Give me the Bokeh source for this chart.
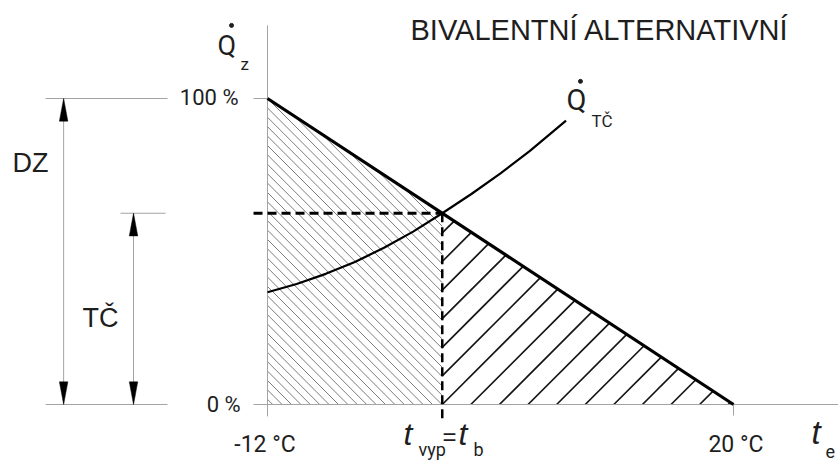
import math

from bokeh.plotting import figure
from bokeh.models import Range1d, Label, ColumnDataSource
from bokeh.embed import file_html
from bokeh.resources import INLINE

# --- data -------------------------------------------------------------
# Design heat load of the building: 100 % at the design outdoor
# temperature, 0 % at the end of the heating season
load_temps = [-12, 20]
load_pct = [100, 0]

# Heat pump output over outdoor temperature
hp_temps = [-12, -10, -8, -6, -4, -2, 0, 2, 4, 6, 8.5]
hp_pct = [36.7, 39.4, 42.7, 46.6, 51.2, 56.5, 62.5, 68.8, 75.5, 82.8, 92.8]

# Bivalent point (switch-over temperature t_vyp = t_b)
t_biv = 0
q_biv = 62.5

pct_labels = ["100 %", "0 %"]
temp_labels = ["-12 °C", "20 °C"]

# --- layout constants -------------------------------------------------
W, H = 838, 461
X_LEFT, X_RIGHT = -30.335, 27.21
Y_BOTTOM, Y_TOP = -18.63, 132.03
PX_PER_PCT = H / (Y_TOP - Y_BOTTOM)
DZ_X = -26.0          # dimension line "DZ"
TC_X = -21.2          # dimension line "TČ"
HEAD_LEN = 7.4        # arrowhead length (% units)
HEAD_HALF = 0.29      # arrowhead half width (°C units)

GREY = "#a3a3a3"
INK = "#1e1e1e"
COND = "Roboto"
REG = "Liberation Sans"

t_min, t_max = load_temps[0], load_temps[-1]
q_max, q_min = load_pct[0], load_pct[-1]


def to_px(t, v):
    return ((t - X_LEFT) / (X_RIGHT - X_LEFT) * W,
            (Y_TOP - v) / (Y_TOP - Y_BOTTOM) * H)


def to_data(x, y):
    return (X_LEFT + x / W * (X_RIGHT - X_LEFT),
            Y_TOP - y / H * (Y_TOP - Y_BOTTOM))


def hatch_segments(poly_t, poly_v, slope, step, anchor):
    """45° hatch lines (screen space) clipped to a convex polygon.

    slope=+1 draws '\\' lines, slope=-1 draws '/' lines; step is the
    horizontal distance between neighbouring lines in pixels and anchor a
    data point that one of the lines passes through.
    """
    pts = [to_px(t, v) for t, v in zip(poly_t, poly_v)]
    ax, ay = to_px(*anchor)
    c0 = ay - slope * ax
    cs = [y - slope * x for x, y in pts]
    k0 = math.ceil((min(cs) - c0) / step)
    k1 = math.floor((max(cs) - c0) / step)
    seg = dict(x0=[], y0=[], x1=[], y1=[])
    n = len(pts)
    for k in range(k0, k1 + 1):
        c = c0 + k * step
        hits = []
        for i in range(n):
            (xa, ya), (xb, yb) = pts[i], pts[(i + 1) % n]
            fa = ya - slope * xa - c
            fb = yb - slope * xb - c
            if fa * fb <= 0 and fa != fb:
                s = fa / (fa - fb)
                hits.append((xa + s * (xb - xa), ya + s * (yb - ya)))
        if len(hits) < 2:
            continue
        hits.sort()
        (xa, ya), (xb, yb) = hits[0], hits[-1]
        if abs(xb - xa) < 0.5:
            continue
        ta, va = to_data(xa, ya)
        tb, vb = to_data(xb, yb)
        seg["x0"].append(ta); seg["y0"].append(va)
        seg["x1"].append(tb); seg["y1"].append(vb)
    return seg


p = figure(width=W, height=H, x_range=Range1d(X_LEFT, X_RIGHT),
           y_range=Range1d(Y_BOTTOM, Y_TOP), x_axis_type=None, y_axis_type=None,
           toolbar_location=None, output_backend="svg", min_border=0)
p.grid.visible = False
p.outline_line_color = None
p.background_fill_color = "white"
p.border_fill_color = "white"

# hatched areas: heat pump share (left) and alternative source share (right)
left = hatch_segments([t_min, t_min, t_biv, t_biv], [q_min, q_max, q_biv, q_min],
                      slope=1, step=9.4, anchor=(t_min, q_max))
p.segment("x0", "y0", "x1", "y1", source=ColumnDataSource(left),
          line_color="#7d7d7d", line_width=1)
right = hatch_segments([t_biv, t_biv, t_max], [q_min, q_biv, q_min],
                       slope=-1, step=28.6, anchor=(t_biv, q_min))
p.segment("x0", "y0", "x1", "y1", source=ColumnDataSource(right),
          line_color="#141414", line_width=1.7)

# thin guide lines
guides = ColumnDataSource(dict(
    x0=[-27.24, -12.96, -27.24, -12.96, -22.09, t_min, t_max, DZ_X, TC_X],
    y0=[q_max, q_max, q_min, q_min, q_biv, -3.9, q_min, q_min, q_min],
    x1=[-18.87, t_min, -18.87, X_RIGHT, -19.0, t_min, t_max, DZ_X, TC_X],
    y1=[q_max, q_max, q_min, q_min, q_biv, 123.9, -3.6, q_max, q_biv],
))
p.segment("x0", "y0", "x1", "y1", source=guides, line_color=GREY, line_width=1)

# arrowheads on the dimension lines
heads_x, heads_y = [], []
for x, y_lo, y_hi in [(DZ_X, q_min, q_max), (TC_X, q_min, q_biv)]:
    heads_x.append([x, x - HEAD_HALF, x + HEAD_HALF])
    heads_y.append([y_hi, y_hi - HEAD_LEN, y_hi - HEAD_LEN])
    heads_x.append([x, x - HEAD_HALF, x + HEAD_HALF])
    heads_y.append([y_lo, y_lo + HEAD_LEN, y_lo + HEAD_LEN])
p.patches(heads_x, heads_y, fill_color="black", line_color="black", line_width=0.5)

# bivalent point projections
p.line([-12.96, t_biv], [q_biv, q_biv], line_color="black", line_width=3,
       line_dash="9 5")
p.line([t_biv, t_biv], [q_biv, -4.6], line_color="black", line_width=2.5,
       line_dash="9 5")

# heat load and heat pump output
p.line(load_temps, load_pct, line_color="black", line_width=3.2)
p.line(hp_temps, hp_pct, line_color="black", line_width=2.2)

# dots of the Q̇ symbols
p.scatter([-14.47, 9.49], [123.9, 105.6], size=4, color=INK)


def label(x, y_base, text, size, font=REG, style="normal", align="left"):
    """Place text with its baseline at y_base (data units)."""
    y_mid = y_base + 0.3465 * size / PX_PER_PCT
    p.add_layout(Label(x=x, y=y_mid, text=text, text_font=font,
                       text_font_size=f"{size}px", text_font_style=style,
                       text_align=align, text_baseline="middle",
                       text_color=INK))


label(-2.18, 118.95, "BIVALENTNÍ ALTERNATIVNÍ", 29)
label(-13.99, 97.7, pct_labels[0], 22, COND, align="right")
label(-13.85, -2.6, pct_labels[1], 22, COND, align="right")
label(t_min - 0.17, -15.7, temp_labels[0], 23, COND, align="center")
label(t_max + 0.17, -15.7, temp_labels[1], 23, COND, align="center")
label(-29.51, 75.8, "DZ", 27)
label(-24.70, 25.2, "TČ", 27)

# Q̇_z
label(-15.43, 114.05, "Q", 27, COND)
label(-13.85, 109.5, "z", 17, COND)
# Q̇_TČ
label(8.53, 96.1, "Q", 29, COND)
label(10.25, 90.8, "TČ", 17, COND)
# t_e
label(25.36, -12.75, "t", 33, REG, style="italic")
label(26.32, -17.3, "e", 18, COND)
# t_vyp = t_b
label(-2.66, -13.4, "t", 32, REG, style="italic")
label(-1.63, -16.7, "vyp", 18, COND)
label(0.02, -13.1, "=", 24)
label(1.12, -13.4, "t", 32, REG, style="italic")
label(2.15, -16.7, "b", 18, COND)

open("out.html", "w").write(file_html(p, INLINE))
